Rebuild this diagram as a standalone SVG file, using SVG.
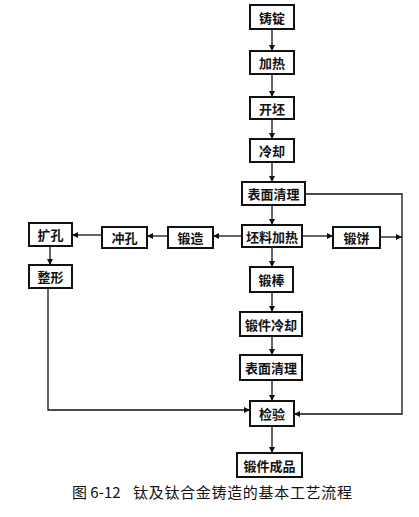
<svg xmlns="http://www.w3.org/2000/svg" width="419" height="517" viewBox="0 0 419 517">
<defs>
<style>
.box{fill:#fff;stroke:#111;stroke-width:2}
.lbl{font-family:"Noto Sans CJK SC","Noto Sans",sans-serif;font-size:13px;font-weight:bold;fill:#111;text-anchor:middle;dominant-baseline:central}
.ln{fill:none;stroke:#111;stroke-width:1.3}
.cap{font-family:"Noto Sans CJK SC","Noto Sans",sans-serif;font-size:15px;fill:#111}
</style>
<marker id="ah" viewBox="0 0 10 10" refX="10" refY="5" markerWidth="7" markerHeight="6" markerUnits="userSpaceOnUse" orient="auto">
<path d="M0,0 L10,5 L0,10 Z" fill="#111"/>
</marker>
</defs>
<rect width="419" height="517" fill="#fff"/>
<g id="connectors" marker-end="url(#ah)">
<path class="ln" d="M272,29 V51"/>
<path class="ln" d="M272,74 V97"/>
<path class="ln" d="M272,119 V139"/>
<path class="ln" d="M272,162 V182"/>
<path class="ln" d="M272,205 V225"/>
<path class="ln" d="M272,247 V267"/>
<path class="ln" d="M272,292 V312"/>
<path class="ln" d="M272,336 V355"/>
<path class="ln" d="M272,380 V401"/>
<path class="ln" d="M272,426 V453"/>
<path class="ln" d="M302,236 H333"/>
<path class="ln" d="M380,237 H402"/>
<path class="ln" d="M305,194 H402 V414 H294"/>
<path class="ln" d="M242,236 H213"/>
<path class="ln" d="M168,236 H147"/>
<path class="ln" d="M102,235 H72"/>
<path class="ln" d="M50,246 V265"/>
<path class="ln" d="M48,288 V410 H250"/>
</g>
<g id="n1"><rect class="box" x="250" y="5" width="44" height="24"/><text class="lbl" x="272" y="17">铸锭</text></g>
<g id="n2"><rect class="box" x="250" y="51" width="44" height="23"/><text class="lbl" x="272" y="62.5">加热</text></g>
<g id="n3"><rect class="box" x="250" y="97" width="44" height="22"/><text class="lbl" x="272" y="108">开坯</text></g>
<g id="n4"><rect class="box" x="250" y="139" width="44" height="23"/><text class="lbl" x="272" y="150.5">冷却</text></g>
<g id="n5"><rect class="box" x="242" y="182" width="63" height="23"/><text class="lbl" x="273.5" y="193.5">表面清理</text></g>
<g id="n6"><rect class="box" x="242" y="225" width="60" height="22"/><text class="lbl" x="272" y="236">坯料加热</text></g>
<g id="n7"><rect class="box" x="333" y="227" width="47" height="21"/><text class="lbl" x="356.5" y="237.5">锻饼</text></g>
<g id="n8"><rect class="box" x="168" y="227" width="45" height="21"/><text class="lbl" x="190.5" y="237.5">锻造</text></g>
<g id="n9"><rect class="box" x="102" y="227" width="45" height="21"/><text class="lbl" x="124.5" y="237.5">冲孔</text></g>
<g id="n10"><rect class="box" x="29" y="223" width="43" height="23"/><text class="lbl" x="50.5" y="234.5">扩孔</text></g>
<g id="n11"><rect class="box" x="29" y="265" width="43" height="23"/><text class="lbl" x="50.5" y="276.5">整形</text></g>
<g id="n12"><rect class="box" x="250" y="267" width="43" height="25"/><text class="lbl" x="271.5" y="279.5">锻棒</text></g>
<g id="n13"><rect class="box" x="240" y="312" width="62" height="24"/><text class="lbl" x="271" y="324">锻件冷却</text></g>
<g id="n14"><rect class="box" x="240" y="355" width="62" height="25"/><text class="lbl" x="271" y="367.5">表面清理</text></g>
<g id="n15"><rect class="box" x="250" y="401" width="44" height="25"/><text class="lbl" x="272" y="413.5">检验</text></g>
<g id="n16"><rect class="box" x="237" y="453" width="65" height="24"/><text class="lbl" x="269.5" y="465">锻件成品</text></g>
<text class="cap" x="72" y="498">图 6-12</text>
<text class="cap" x="133" y="498" textLength="219" lengthAdjust="spacing">钛及钛合金铸造的基本工艺流程</text>
</svg>
